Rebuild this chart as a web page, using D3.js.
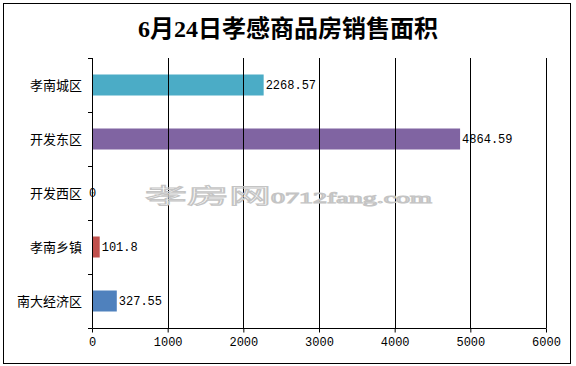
<!DOCTYPE html>
<html>
<head>
<meta charset="utf-8">
<script src="https://cdn.jsdelivr.net/npm/d3@7"></script>
<style>
  body { margin: 0; background: #fff; }
  svg text { font-family: "Liberation Mono", "Noto Sans CJK SC", monospace; }
</style>
</head>
<body>
<div class="chart"></div>
<script>
// 6月24日孝感商品房销售面积 - horizontal bar chart
var categories = ["孝南城区", "开发东区", "开发西区", "孝南乡镇", "南大经济区"];
var values = [2268.57, 4864.59, 0, 101.8, 327.55];
var barColors = ["#4BACC6", "#8064A2", "#9BBB59", "#C0504D", "#4F81BD"];
var xTicks = [0, 1000, 2000, 3000, 4000, 5000, 6000];
var titleText = "6月24日孝感商品房销售面积";

var svgWidth = 576;
var svgHeight = 366;

var margin = { top: 58, right: 30, bottom: 38, left: 92 };
var chartWidth = 546 - margin.left;
var chartHeight = 328 - margin.top;

var svg = d3.select(".chart")
    .append("svg")
    .attr("width", svgWidth)
    .attr("height", svgHeight);

// outer frame
svg.append("rect")
    .attr("x", 3.5).attr("y", 3.5)
    .attr("width", 567).attr("height", 360)
    .attr("fill", "#fff")
    .attr("stroke", "#000")
    .attr("stroke-width", 1);

svg.append("text")
    .attr("x", 288)
    .attr("y", 37)
    .attr("text-anchor", "middle")
    .style("font-family", "'Liberation Serif', 'Noto Sans CJK SC', serif")
    .style("font-size", "24px")
    .style("font-weight", "bold")
    .text(titleText);

var chart = svg.append("g")
    .attr("transform", "translate(" + margin.left + "," + margin.top + ")");

var xScale = d3.scaleLinear().domain([0, 6000]).range([0, chartWidth]);
var yScale = d3.scaleBand().domain(categories).range([0, chartHeight]);

var barH = 21;

chart.selectAll(".bar")
    .data(values)
    .enter()
    .append("rect")
    .attr("class", "bar")
    .attr("x", xScale(0))
    .attr("y", function(d, i) { return yScale(categories[i]) + (yScale.bandwidth() - barH) / 2; })
    .attr("width", function(d) { return xScale(d) - xScale(0); })
    .attr("height", barH)
    .attr("fill", function(d, i) { return barColors[i]; });

// watermark (outlined, stretched)
var wm = svg.append("text")
    .attr("transform", "translate(145,203) scale(2,1)")
    .attr("fill", "none")
    .attr("stroke", "#c4c4c4")
    .attr("stroke-width", 1)
    .attr("vector-effect", "non-scaling-stroke");
wm.append("tspan")
    .style("font-family", "'Noto Sans CJK SC', sans-serif")
    .style("font-size", "21px")
    .text("孝房网");
wm.append("tspan")
    .style("font-family", "'Liberation Serif', serif")
    .style("font-size", "14px")
    .text("0712fang.com");

// vertical grid lines
chart.selectAll(".grid")
    .data(xTicks.slice(1))
    .enter()
    .append("line")
    .attr("class", "grid")
    .attr("x1", function(d) { return Math.round(xScale(d)) + 0.5; })
    .attr("x2", function(d) { return Math.round(xScale(d)) + 0.5; })
    .attr("y1", 0)
    .attr("y2", chartHeight)
    .attr("stroke", "#000")
    .attr("stroke-width", 1);

chart.selectAll(".val")
    .data(values)
    .enter()
    .append("text")
    .attr("class", "val")
    .attr("x", function(d) { return d === 0 ? xScale(d) - 3 : xScale(d) + 2; })
    .attr("y", function(d, i) { return yScale(categories[i]) + yScale.bandwidth() / 2; })
    .attr("dy", "0.35em")
    .style("font-size", "12px")
    .text(function(d) { return d; });

// bottom axis
var bottomAxis = d3.axisBottom(xScale)
    .tickValues(xTicks)
    .tickSize(4)
    .tickPadding(5)
    .tickFormat(d3.format("d"));

var xg = chart.append("g")
    .attr("transform", "translate(0," + (chartHeight + 0.5) + ")")
    .call(bottomAxis);
xg.select(".domain").attr("stroke", "#000").attr("d", "M0.5,0H" + (chartWidth + 0.5));
xg.selectAll("text")
    .style("font-family", "'Liberation Mono', monospace")
    .style("font-size", "12px")
    .attr("fill", "#000");

// left axis: ticks between categories
var leftG = chart.append("g");
leftG.append("line")
    .attr("x1", 0.5).attr("x2", 0.5)
    .attr("y1", 0).attr("y2", chartHeight)
    .attr("stroke", "#000");
leftG.selectAll(".ytick")
    .data(categories.concat([null]))
    .enter()
    .append("line")
    .attr("class", "ytick")
    .attr("x1", -4).attr("x2", 0.5)
    .attr("y1", function(d, i) { return Math.round(i * yScale.step()) + 0.5; })
    .attr("y2", function(d, i) { return Math.round(i * yScale.step()) + 0.5; })
    .attr("stroke", "#000");
leftG.selectAll(".ylab")
    .data(categories)
    .enter()
    .append("text")
    .attr("class", "ylab")
    .attr("x", -10)
    .attr("y", function(d) { return yScale(d) + yScale.bandwidth() / 2; })
    .attr("dy", "0.35em")
    .attr("text-anchor", "end")
    .style("font-family", "'Noto Sans CJK SC', sans-serif")
    .style("font-size", "13px")
    .text(function(d) { return d; });
</script>
</body>
</html>
